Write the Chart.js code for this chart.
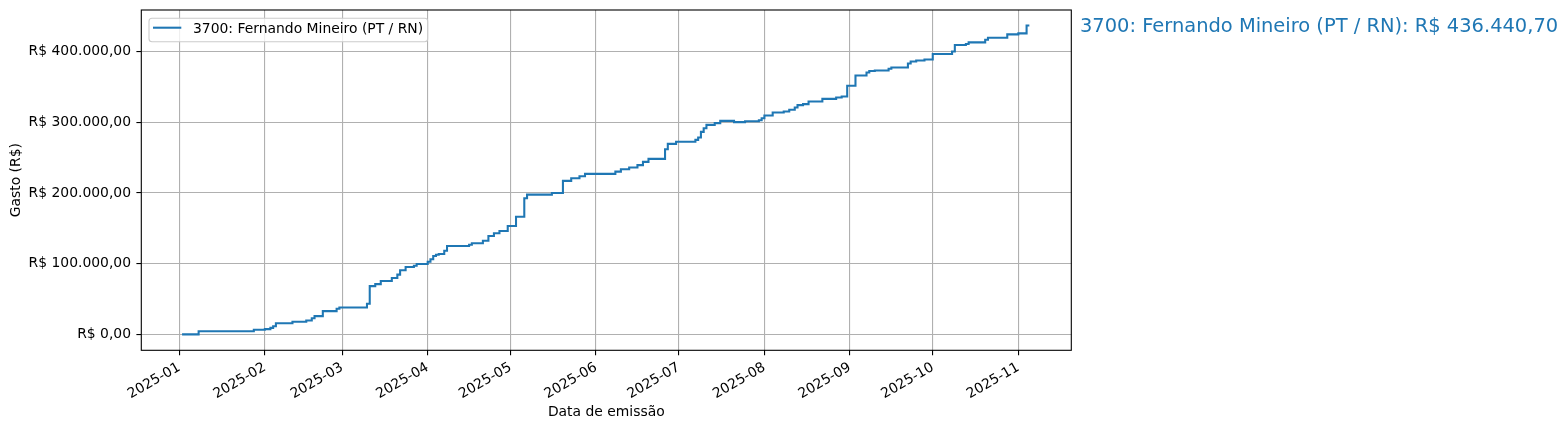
<!DOCTYPE html>
<html>
<head>
<meta charset="utf-8">
<title>Gasto acumulado</title>
<script src="https://cdn.jsdelivr.net/npm/chart.js@4/dist/chart.umd.min.js"></script>
<style>
  html, body { margin: 0; padding: 0; background: #fff; }
  #wrap { width: 1568px; height: 430px; position: relative; }
</style>
</head>
<body>
<div id="wrap"><canvas id="canvas"></canvas></div>
<script>
// cumulative spending, one point per date where the total changed
var stepDates = [
  '2025-01-02', '2025-01-08', '2025-01-28', '2025-02-01', '2025-02-03', '2025-02-04',
  '2025-02-05', '2025-02-11', '2025-02-16', '2025-02-18', '2025-02-19', '2025-02-22',
  '2025-02-27', '2025-02-28', '2025-03-10', '2025-03-11', '2025-03-13', '2025-03-15',
  '2025-03-19', '2025-03-21', '2025-03-22', '2025-03-24', '2025-03-27', '2025-03-28',
  '2025-04-01', '2025-04-02', '2025-04-03', '2025-04-04', '2025-04-05', '2025-04-07',
  '2025-04-08', '2025-04-16', '2025-04-17', '2025-04-21', '2025-04-23', '2025-04-25',
  '2025-04-27', '2025-04-30', '2025-05-03', '2025-05-06', '2025-05-07', '2025-05-16',
  '2025-05-20', '2025-05-23', '2025-05-26', '2025-05-28', '2025-06-08', '2025-06-10',
  '2025-06-13', '2025-06-16', '2025-06-18', '2025-06-20', '2025-06-26', '2025-06-27',
  '2025-06-30', '2025-07-07', '2025-07-08', '2025-07-09', '2025-07-10', '2025-07-11',
  '2025-07-14', '2025-07-16', '2025-07-21', '2025-07-25', '2025-07-30', '2025-07-31',
  '2025-08-01', '2025-08-04', '2025-08-08', '2025-08-10', '2025-08-12', '2025-08-13',
  '2025-08-15', '2025-08-17', '2025-08-22', '2025-08-27', '2025-08-29', '2025-08-31',
  '2025-09-03', '2025-09-07', '2025-09-08', '2025-09-10', '2025-09-15', '2025-09-16',
  '2025-09-22', '2025-09-23', '2025-09-25', '2025-09-28', '2025-10-01', '2025-10-08',
  '2025-10-09', '2025-10-13', '2025-10-14', '2025-10-20', '2025-10-21', '2025-10-28',
  '2025-11-01', '2025-11-04', '2025-11-05'
];
var totals = [
  500, 5000, 7000, 7900, 9700, 12000,
  16200, 18200, 20000, 23200, 26200, 33300,
  36600, 38500, 43800, 68600, 71400, 75700,
  80000, 84800, 90900, 95500, 97300, 99800,
  102900, 106400, 111000, 112800, 113900, 118600,
  125200, 127000, 129000, 132700, 139300, 143200,
  146400, 153500, 166600, 192600, 197700, 200100,
  217100, 220900, 223700, 227000, 230200, 233600,
  235900, 239300, 243900, 248200, 261800, 269400,
  272400, 275000, 278300, 286300, 291400, 296200,
  298600, 301800, 300000, 301400, 302800, 305600,
  309300, 313600, 315000, 317400, 320700, 324000,
  325400, 329100, 332900, 334800, 336200, 351400,
  365900, 370200, 372100, 373000, 375400, 377200,
  382900, 385700, 387100, 388500, 396100, 399800,
  408900, 410300, 412600, 416400, 419200, 423900,
  425300, 436440.70, 436440.70
];

var monthTicks = ['2025-01-01', '2025-02-01', '2025-03-01', '2025-04-01', '2025-05-01', '2025-06-01',
                  '2025-07-01', '2025-08-01', '2025-09-01', '2025-10-01', '2025-11-01'];
var monthLabels = ['2025-01', '2025-02', '2025-03', '2025-04', '2025-05', '2025-06',
                   '2025-07', '2025-08', '2025-09', '2025-10', '2025-11'];
var yTicks = [0, 100000, 200000, 300000, 400000];

var seriesName = '3700: Fernando Mineiro (PT / RN)';
var finalTotal = 436440.70;

var BLUE = '#1f77b4';
var FONT = "'DejaVu Sans', sans-serif";

function toDay(s) {
  return (Date.parse(s) - Date.parse('2025-01-01')) / 86400000;
}

function brl(v) {
  var parts = Math.abs(v).toFixed(2).split('.');
  var whole = parts[0].replace(/\B(?=(\d{3})+(?!\d))/g, '.');
  return 'R$ ' + (v < 0 ? '-' : '') + whole + ',' + parts[1];
}

var points = stepDates.map(function (d, i) {
  return { x: toDay(d), y: totals[i] };
});

// frame, legend and the side label
var extras = {
  id: 'extras',
  afterDatasetsDraw: function (chart) {
    var ctx = chart.ctx;
    var a = chart.chartArea;
    ctx.save();
    ctx.strokeStyle = '#000';
    ctx.lineWidth = 1.1;
    ctx.strokeRect(a.left, a.top, a.right - a.left, a.bottom - a.top);

    // legend box
    var lx = a.left + 7.7, ly = a.top + 8.3, lw = 278.7, lh = 23.4, r = 3;
    ctx.beginPath();
    ctx.roundRect(lx, ly, lw, lh, r);
    ctx.fillStyle = 'rgba(255,255,255,0.8)';
    ctx.fill();
    ctx.strokeStyle = '#cccccc';
    ctx.lineWidth = 1.1;
    ctx.stroke();

    ctx.beginPath();
    ctx.moveTo(lx + 4, a.top + 17.7);
    ctx.lineTo(lx + 32.3, a.top + 17.7);
    ctx.strokeStyle = BLUE;
    ctx.lineWidth = 2.08;
    ctx.stroke();

    ctx.fillStyle = '#000';
    ctx.font = '13.9px ' + FONT;
    ctx.textAlign = 'left';
    ctx.textBaseline = 'alphabetic';
    ctx.fillText(seriesName, lx + 44, a.top + 22.9);

    // side label with the final total
    ctx.fillStyle = BLUE;
    ctx.font = '19.44px ' + FONT;
    ctx.fillText(seriesName + ': ' + brl(finalTotal), a.right + 8.7, a.top + 21.7);
    ctx.restore();
  }
};

Chart.defaults.font.family = FONT;
Chart.defaults.font.size = 13.9;
Chart.defaults.color = '#000';

var ctx = document.getElementById('canvas');
var myChart = new Chart(ctx, {
  type: 'line',
  data: {
    datasets: [{
      label: seriesName,
      data: points,
      borderColor: BLUE,
      backgroundColor: 'transparent',
      borderWidth: 2.08,
      pointRadius: 0,
      stepped: true,
      fill: false
    }]
  },
  options: {
    responsive: true,
    maintainAspectRatio: false,
    animation: false,
    layout: {
      padding: { left: 0, right: 496.7, top: 10, bottom: 0 }
    },
    plugins: {
      legend: { display: false },
      tooltip: { enabled: false }
    },
    scales: {
      x: {
        type: 'linear',
        min: -13.77,
        max: 323.2,
        afterBuildTicks: function (scale) {
          scale.ticks = monthTicks.map(function (m) { return { value: toDay(m) }; });
        },
        afterFit: function (scale) {
          scale.height = 79.7;
          scale.paddingLeft = 0;
          scale.paddingRight = 0;
        },
        ticks: {
          autoSkip: false,
          minRotation: 30,
          maxRotation: 30,
          padding: 4,
          callback: function (value, index) { return monthLabels[index]; }
        },
        grid: {
          color: '#b0b0b0',
          lineWidth: 1.1,
          tickColor: '#000',
          tickWidth: 1.1,
          tickLength: 4.9
        },
        border: { display: false },
        title: {
          display: true,
          text: 'Data de emissão',
          padding: { top: 0, bottom: 9 }
        }
      },
      y: {
        type: 'linear',
        min: -22000,
        max: 458300,
        afterBuildTicks: function (scale) {
          scale.ticks = yTicks.map(function (v) { return { value: v }; });
        },
        afterFit: function (scale) {
          scale.width = 141.3;
          scale.paddingTop = 0;
          scale.paddingBottom = 0;
        },
        ticks: {
          padding: 5.4,
          callback: function (value) { return brl(value); }
        },
        grid: {
          color: '#b0b0b0',
          lineWidth: 1.1,
          tickColor: '#000',
          tickWidth: 1.1,
          tickLength: 4.9
        },
        border: { display: false },
        title: {
          display: true,
          text: 'Gasto (R$)',
          padding: { top: 7.7, bottom: 0 }
        }
      }
    }
  },
  plugins: [extras]
});
</script>
</body>
</html>
